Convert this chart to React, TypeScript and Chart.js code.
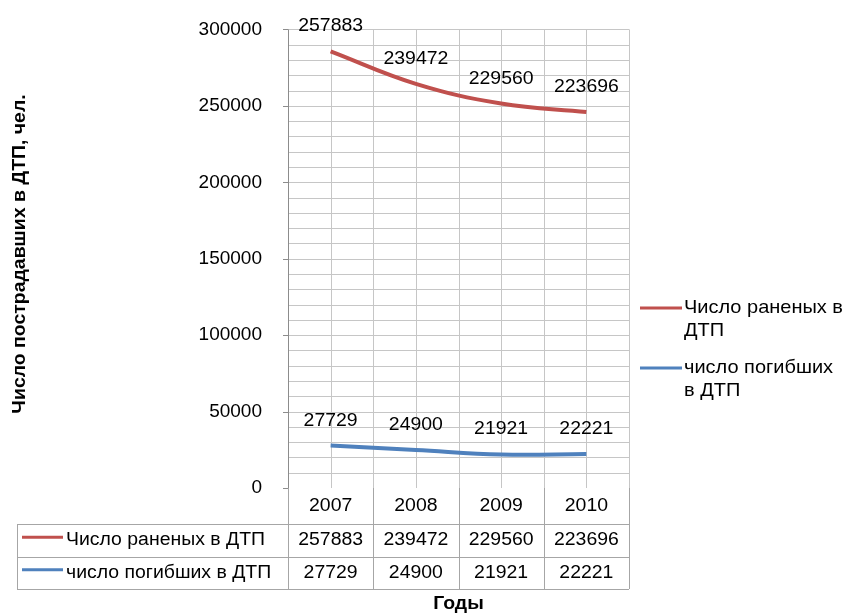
import React, { useEffect, useRef } from 'react';
import { Chart, registerables } from 'chart.js';

Chart.register(...registerables);

const years = ['2007', '2008', '2009', '2010'];
const injured = [257883, 239472, 229560, 223696];
const killed = [27729, 24900, 21921, 22221];
const seriesNames = ['Число раненых в ДТП', 'число погибших в ДТП'];
const legendLines = [['Число раненых в', 'ДТП'], ['число погибших', 'в ДТП']];
const yTitle = 'Число пострадавших в ДТП, чел.';
const xTitle = 'Годы';
const yMin = 0;
const yMax = 300000;
const yMajorStep = 50000;
const yMinorStep = 10000;

const RED = '#C0504D';
const BLUE = '#4F81BD';
const GRID = '#C6C6C6';
const AXIS = '#8C8C8C';
const FONT = '"Liberation Sans", Arial, sans-serif';
const SX = 1.08;

function txt(ctx: CanvasRenderingContext2D, s: string, x: number, y: number, align: 'left' | 'center' | 'right', font: string) {
  ctx.save();
  ctx.font = font;
  ctx.textBaseline = 'middle';
  ctx.textAlign = align;
  ctx.fillStyle = '#000';
  ctx.translate(x, y);
  ctx.scale(SX, 1);
  ctx.fillText(s, 0, 0);
  ctx.restore();
}

const customPlugin = {
  id: 'excelLook',
  beforeDatasetsDraw(chart: any) {
    const ctx: CanvasRenderingContext2D = chart.ctx;
    const { left, right, top, bottom } = chart.chartArea;
    const xs = chart.scales.x;
    const ys = chart.scales.y;
    ctx.save();
    ctx.lineWidth = 1;
    ctx.strokeStyle = GRID;
    for (let v = yMin + yMinorStep; v <= yMax; v += yMinorStep) {
      const y = Math.round(ys.getPixelForValue(v)) + 0.5;
      ctx.beginPath();
      ctx.moveTo(left, y);
      ctx.lineTo(right, y);
      ctx.stroke();
    }
    const half = (xs.getPixelForValue(1) - xs.getPixelForValue(0)) / 2;
    const vx: number[] = [];
    for (let i = 0; i < years.length; i++) {
      const c = xs.getPixelForValue(i);
      vx.push(c - half, c);
      if (i === years.length - 1) vx.push(c + half);
    }
    vx.forEach((x, idx) => {
      if (idx === 0) return;
      const px = Math.round(x) + 0.5;
      ctx.beginPath();
      ctx.moveTo(px, top);
      ctx.lineTo(px, bottom);
      ctx.stroke();
    });
    ctx.strokeStyle = AXIS;
    const lx = Math.round(left) + 0.5;
    ctx.beginPath();
    ctx.moveTo(lx, top);
    ctx.lineTo(lx, bottom);
    ctx.stroke();
    for (let v = yMin; v <= yMax; v += yMajorStep) {
      const y = Math.round(ys.getPixelForValue(v)) + 0.5;
      ctx.beginPath();
      ctx.moveTo(left - 5, y);
      ctx.lineTo(left, y);
      ctx.stroke();
    }
    ctx.restore();
  },
  afterDraw(chart: any) {
    const ctx: CanvasRenderingContext2D = chart.ctx;
    const { left, right, bottom } = chart.chartArea;
    const xs = chart.scales.x;
    const f18 = `18px ${FONT}`;
    const half = (xs.getPixelForValue(1) - xs.getPixelForValue(0)) / 2;

    const meta0 = chart.getDatasetMeta(0);
    const meta1 = chart.getDatasetMeta(1);
    killed.forEach((v, i) => {
      const p = meta0.data[i];
      txt(ctx, String(v), p.x, p.y - 25, 'center', f18);
    });
    injured.forEach((v, i) => {
      const p = meta1.data[i];
      txt(ctx, String(v), p.x, p.y - 25, 'center', f18);
    });

    const rowH0 = 36;
    const rowH = 32.5;
    const tLeft = 17;
    const y0 = bottom;
    const y1 = y0 + rowH0;
    const y2 = y1 + rowH;
    const y3 = y2 + rowH;
    ctx.save();
    ctx.strokeStyle = '#A6A6A6';
    ctx.lineWidth = 1;
    const hl = (y: number, xa: number, xb: number) => {
      const py = Math.round(y) + 0.5;
      ctx.beginPath();
      ctx.moveTo(xa, py);
      ctx.lineTo(xb, py);
      ctx.stroke();
    };
    const vl = (x: number, ya: number, yb: number) => {
      const px = Math.round(x) + 0.5;
      ctx.beginPath();
      ctx.moveTo(px, ya);
      ctx.lineTo(px, yb);
      ctx.stroke();
    };
    hl(y1, tLeft, right);
    hl(y2, tLeft, right);
    hl(y3, tLeft, right);
    vl(tLeft, y1, y3);
    vl(left, y0, y3);
    for (let i = 0; i < years.length; i++) {
      vl(xs.getPixelForValue(i) + half, y0, y3);
    }
    ctx.restore();

    years.forEach((yr, i) => {
      const cx = xs.getPixelForValue(i);
      txt(ctx, yr, cx, (y0 + y1) / 2, 'center', f18);
      txt(ctx, String(injured[i]), cx, (y1 + y2) / 2, 'center', f18);
      txt(ctx, String(killed[i]), cx, (y2 + y3) / 2, 'center', f18);
    });
    const keys = [
      { color: RED, name: seriesNames[0], y: (y1 + y2) / 2 },
      { color: BLUE, name: seriesNames[1], y: (y2 + y3) / 2 },
    ];
    keys.forEach((k) => {
      ctx.save();
      ctx.strokeStyle = k.color;
      ctx.lineWidth = 3;
      ctx.beginPath();
      ctx.moveTo(22, k.y - 3);
      ctx.lineTo(63, k.y - 3);
      ctx.stroke();
      ctx.restore();
      txt(ctx, k.name, 66, k.y, 'left', f18);
    });

    const leg = [
      { color: RED, lines: legendLines[0], y: 308 },
      { color: BLUE, lines: legendLines[1], y: 368 },
    ];
    leg.forEach((l) => {
      ctx.save();
      ctx.strokeStyle = l.color;
      ctx.lineWidth = 3;
      ctx.beginPath();
      ctx.moveTo(640, l.y);
      ctx.lineTo(682, l.y);
      ctx.stroke();
      ctx.restore();
      l.lines.forEach((s, j) => txt(ctx, s, 684, l.y + j * 23, 'left', `18.5px ${FONT}`));
    });

    txt(ctx, xTitle, (left + right) / 2, 604, 'center', `bold 18px ${FONT}`);
    ctx.save();
    ctx.translate(20, 254);
    ctx.rotate(-Math.PI / 2);
    ctx.font = `bold 18px ${FONT}`;
    ctx.textAlign = 'center';
    ctx.textBaseline = 'middle';
    ctx.fillStyle = '#000';
    ctx.scale(SX, 1);
    ctx.fillText(yTitle, 0, 0);
    ctx.restore();
  },
};

export default function App() {
  const ref = useRef<HTMLCanvasElement | null>(null);
  useEffect(() => {
    if (!ref.current) return;
    const chart = new Chart(ref.current, {
      type: 'line',
      data: {
        labels: years,
        datasets: [
          {
            label: seriesNames[1],
            data: killed,
            borderColor: BLUE,
            backgroundColor: BLUE,
            borderWidth: 4,
            pointRadius: 0,
            tension: 0.4,
            fill: false,
          },
          {
            label: seriesNames[0],
            data: injured,
            borderColor: RED,
            backgroundColor: RED,
            borderWidth: 4,
            pointRadius: 0,
            tension: 0.4,
            fill: false,
          },
        ],
      },
      options: {
        responsive: false,
        animation: false,
        layout: { padding: { top: 24, right: 218, bottom: 0, left: 0 } },
        plugins: { legend: { display: false }, tooltip: { enabled: false } },
        scales: {
          x: {
            offset: true,
            grid: { display: false },
            border: { display: false },
            ticks: { display: false },
            afterFit: (s: any) => { s.height = 126; },
          },
          y: {
            stacked: true,
            min: yMin,
            max: yMax,
            grid: { display: false },
            border: { display: false },
            ticks: {
              stepSize: yMajorStep,
              padding: 18,
              color: '#000',
              font: { family: FONT, size: 19 },
              callback: (v: any) => String(v),
            },
            afterFit: (s: any) => { s.width = 288; },
          },
        },
      },
      plugins: [customPlugin],
    });
    return () => chart.destroy();
  }, []);
  return (
    <div style={{ position: 'absolute', left: 0, top: 0, width: 847, height: 614, background: '#fff' }}>
      <canvas ref={ref} width={847} height={614} style={{ display: 'block' }} />
    </div>
  );
}
